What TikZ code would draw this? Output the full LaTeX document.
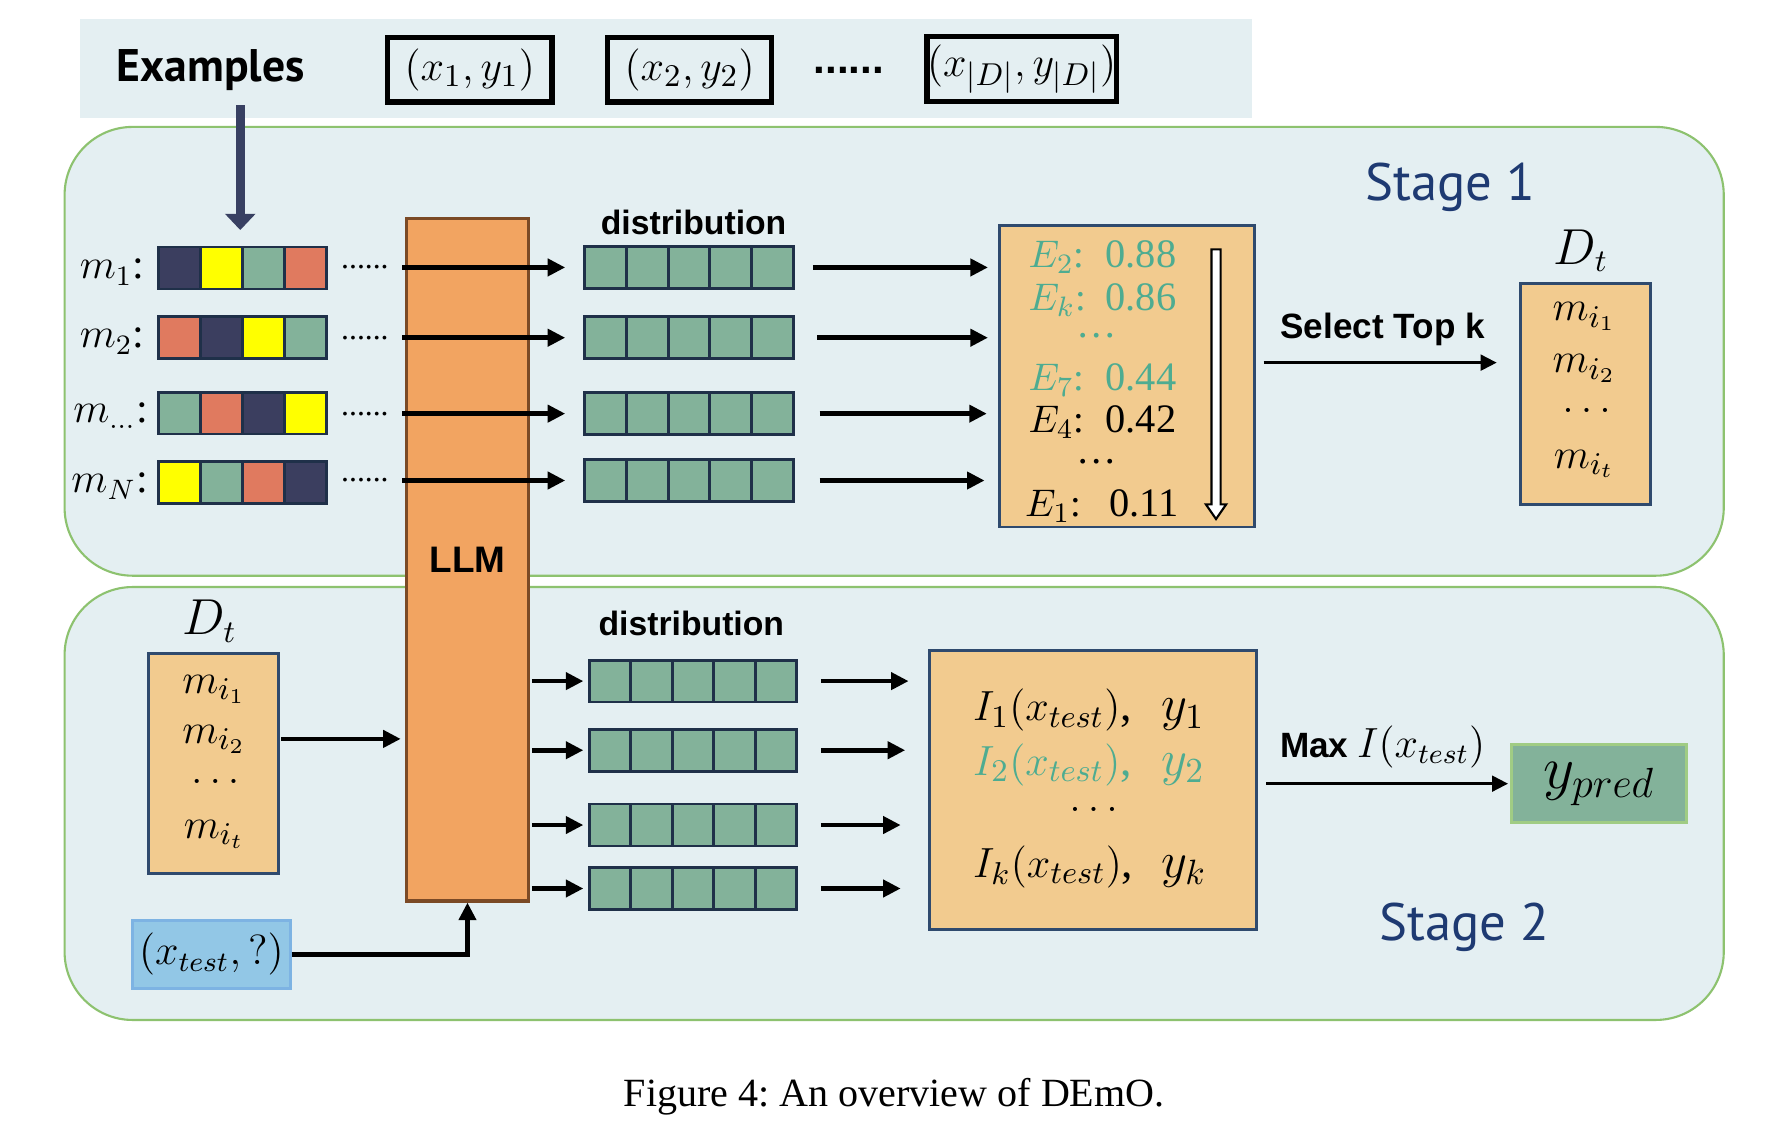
\documentclass[tikz,border=0pt]{standalone}
\usepackage{fontspec}
\setmainfont{Liberation Serif}
\setsansfont{Liberation Sans}
\newfontfamily\ptsans{PT Sans}
\usetikzlibrary{arrows.meta,calc}
\newlength\unitpx
\setlength\unitpx{0.011333cm}
\definecolor{bgblue}{HTML}{E4EFF2}
\definecolor{stageborder}{HTML}{8DC26F}
\definecolor{cnavy}{HTML}{3B3E5F}
\definecolor{cyellow}{HTML}{FFFF00}
\definecolor{cgreen}{HTML}{83B29A}
\definecolor{csalmon}{HTML}{E07A5F}
\definecolor{cellborder}{HTML}{1F3049}
\definecolor{llmfill}{HTML}{F2A461}
\definecolor{llmborder}{HTML}{7B4A26}
\definecolor{boxfill}{HTML}{F2CB8F}
\definecolor{boxborder}{HTML}{2F4A6E}
\definecolor{myteal}{HTML}{4EAC91}
\definecolor{testfill}{HTML}{92C7E6}
\definecolor{testborder}{HTML}{7DB3E3}
\definecolor{predborder}{HTML}{A0CC84}
\definecolor{stagetext}{HTML}{1E3A72}
\definecolor{arrownavy}{HTML}{384062}
\tikzset{
  arr/.style={line width=1.3pt, -{Triangle[length=5pt,width=4.8pt]}},
  thinarr/.style={line width=1pt, -{Triangle[length=4.6pt,width=4.4pt]}},
  stage/.style={draw=stageborder, fill=bgblue, rounded corners=0.68cm, line width=0.6pt, inner sep=0},
  band/.style={fill=bgblue, minimum width=1034\unitpx, minimum height=87\unitpx, inner sep=0},
  colorcell/.style={draw=cellborder, line width=0.8pt, minimum width=37\unitpx, minimum height=37\unitpx, inner sep=0, outer sep=0},
  distbar/.style={draw=cellborder, fill=cgreen, line width=0.8pt, minimum width=184\unitpx, minimum height=37\unitpx, inner sep=0,
    path picture={\foreach \k in {1,2,3,4}{\draw[cellborder, line width=0.8pt] ($(path picture bounding box.south west)!\k/5!(path picture bounding box.south east)$) -- ($(path picture bounding box.north west)!\k/5!(path picture bounding box.north east)$);}}},
  exbox/.style={draw=black, line width=1.5pt, minimum width=145\unitpx, minimum height=57\unitpx, inner sep=0, font=\fontsize{12.5}{14}\selectfont},
  orangebox/.style={draw=boxborder, fill=boxfill, line width=0.8pt, inner sep=0},
  rowlab/.style={anchor=east, inner sep=0, font=\fontsize{12}{14}\selectfont},
  rowdots/.style={inner sep=0, font=\fontsize{9}{10}\selectfont},
  ebtxt/.style={anchor=base west, inner sep=0, font=\fontsize{11.5}{13}\selectfont},
  eblab/.style={anchor=base west, inner sep=0, font=\fontsize{11}{13}\selectfont},
  ibtxt/.style={anchor=base west, inner sep=0, font=\fontsize{13}{15}\selectfont},
  mtxt/.style={anchor=base, inner sep=0, font=\fontsize{12.5}{14}\selectfont},
  sanslab/.style={anchor=base, inner sep=0, font=\sffamily\bfseries\fontsize{10}{12}\selectfont},
  distlab/.style={anchor=base, inner sep=0, font=\sffamily\bfseries\fontsize{9.6}{12}\selectfont},
  stagelab/.style={anchor=base, inner sep=0, text=stagetext, font=\ptsans\fontsize{15}{17}\selectfont},
}
\newcommand\colorrow[6]{%
  \node[colorcell, fill=#3] (#1a) at (158.5,#2) {};
  \node[colorcell, fill=#4] (#1b) at (195.5,#2) {};
  \node[colorcell, fill=#5] (#1c) at (232.5,#2) {};
  \node[colorcell, fill=#6] (#1d) at (269.5,#2) {};}
\begin{document}
\begin{tikzpicture}[x=0.011333cm,y=-0.011333cm]
\useasboundingbox (0,0) rectangle (1568,1006);
\fill[white] (0,0) rectangle (1568,1006);

% stages and band
\node[stage, minimum width=1464\unitpx, minimum height=396\unitpx] (stage1) at (789,310) {};
\node[stage, minimum width=1464\unitpx, minimum height=382\unitpx] (stage2) at (789,709) {};
\node[band] (band) at (588,60.5) {};

% examples
\node[anchor=base, inner sep=0, font=\ptsans\bfseries\fontsize{13}{15}\selectfont] (examples) at (186,72) {Examples};
\node[exbox] (ex1) at (414.5,61.5) {$(x_1,y_1)$};
\node[exbox] (ex2) at (608.5,61.5) {$(x_2,y_2)$};
\node[inner sep=0, font=\sffamily\bfseries\fontsize{12}{14}\selectfont] (exdots) at (749,62) {......};
\node[exbox, minimum width=163\unitpx] (exD) at (901.5,61) {$(x_{|D|},y_{|D|})$};

% stage labels
\node[stagelab] (st1) at (1280,177) {Stage 1};
\node[stagelab] (st2) at (1292,830) {Stage 2};

% LLM
\node[draw=llmborder, fill=llmfill, line width=0.9pt, minimum width=107\unitpx, minimum height=602\unitpx, inner sep=0,
      font=\sffamily\bfseries\fontsize{10.5}{12}\selectfont] (llm) at (412.5,494) {LLM};

% stage 1 rows
\colorrow{ra}{236.5}{cnavy}{cyellow}{cgreen}{csalmon}
\colorrow{rb}{297.5}{csalmon}{cnavy}{cyellow}{cgreen}
\colorrow{rc}{364.5}{cgreen}{csalmon}{cnavy}{cyellow}
\colorrow{rd}{425.5}{cyellow}{cgreen}{csalmon}{cnavy}
\node[rowlab] (la) at (128,240) {$m_1$:};
\node[rowlab] (lb) at (128,301) {$m_2$:};
\node[rowlab] (lc) at (131,367) {$m_{\dots}$:};
\node[rowlab] (ld) at (131,429) {$m_N$:};
\node[rowdots] (dta) at (322,236) {......};
\node[rowdots] (dtb) at (322,298) {......};
\node[rowdots] (dtc) at (322,365) {......};
\node[rowdots] (dtd) at (322,424) {......};

% distribution stage 1
\node[distlab] (dist1) at (612,207) {distribution};
\node[distbar] (d1) at (608,236) {};
\node[distbar] (d2) at (608,298) {};
\node[distbar] (d3) at (608,365) {};
\node[distbar] (d4) at (608,424) {};
\coordinate (sa) at (355,236);
\coordinate (sb) at (355,298);
\coordinate (sc) at (355,365);
\coordinate (sd) at (355,424);
\draw[arr, shorten >=16\unitpx] (sa) -- (d1.west);
\draw[arr, shorten >=16\unitpx] (sb) -- (d2.west);
\draw[arr, shorten >=16\unitpx] (sc) -- (d3.west);
\draw[arr, shorten >=16\unitpx] (sd) -- (d4.west);

% E box
\node[orangebox, minimum width=225\unitpx, minimum height=266\unitpx] (ebox) at (994.5,332) {};
\draw[arr, shorten <=16\unitpx, shorten >=9\unitpx] (d1.east) -- (d1.east -| ebox.west);
\draw[arr, shorten <=20\unitpx, shorten >=9\unitpx] (d2.east) -- (d2.east -| ebox.west);
\draw[arr, shorten <=22\unitpx, shorten >=10\unitpx] (d3.east) -- (d3.east -| ebox.west);
\draw[arr, shorten <=22\unitpx, shorten >=12\unitpx] (d4.east) -- (d4.east -| ebox.west);
\node[eblab, text=myteal] (e2l) at (907,236) {$E_2$:};
\node[ebtxt, text=myteal] (e2v) at (975,236) {0.88};
\node[eblab, text=myteal] (ekl) at (907,274) {$E_k$:};
\node[ebtxt, text=myteal] (ekv) at (975,274) {0.86};
\node[anchor=base, inner sep=0, text=myteal, font=\fontsize{11.5}{13}\selectfont] (edots1) at (968,298) {\dots};
\node[eblab, text=myteal] (e7l) at (907,345) {$E_7$:};
\node[ebtxt, text=myteal] (e7v) at (975,345) {0.44};
\node[eblab] (e4l) at (907,382) {$E_4$:};
\node[ebtxt] (e4v) at (975,382) {0.42};
\node[anchor=base, inner sep=0, font=\fontsize{11.5}{13}\selectfont] (edots2) at (968,409) {\dots};
\node[eblab] (e1l) at (904,456) {$E_1$:};
\node[ebtxt] (e1v) at (978,456) {0.11};
\draw[line width=0.6pt, fill=white] (1069,220) -- (1077,220) -- (1077,445) -- (1082,445) -- (1073,458) -- (1064,445) -- (1069,445) -- cycle;

% select top k
\node[orangebox, minimum width=114\unitpx, minimum height=195\unitpx] (dtone) at (1399,347.5) {};
\node[mtxt, font=\fontsize{13.5}{15}\selectfont] (dtonelab) at (1395,233) {$D_t$};
\node[mtxt] (o1) at (1398,283) {$m_{i_1}$};
\node[mtxt] (o2) at (1398,329) {$m_{i_2}$};
\node[mtxt] (o3) at (1400,364) {$\dots$};
\node[mtxt] (o4) at (1398,413) {$m_{i_t}$};
\node[sanslab] (sel) at (1220,299) {Select Top k};
\coordinate (selA) at (1115,320);
\draw[thinarr, shorten >=20\unitpx] (selA) -- (selA -| dtone.west);

% stage 2 D_t
\node[orangebox, minimum width=115\unitpx, minimum height=194\unitpx] (dttwo) at (188.5,674) {};
\node[mtxt, font=\fontsize{13.5}{15}\selectfont] (dttwolab) at (185,560) {$D_t$};
\node[mtxt] (p1) at (189,612) {$m_{i_1}$};
\node[mtxt] (p2) at (189,656) {$m_{i_2}$};
\node[mtxt] (p3) at (190,691) {$\dots$};
\node[mtxt] (p4) at (189,740) {$m_{i_t}$};
\coordinate (dtA) at (248,652);
\draw[arr, shorten >=4\unitpx] (dtA) -- (dtA -| llm.west);

% x_test
\node[draw=testborder, fill=testfill, line width=0.8pt, minimum width=139\unitpx, minimum height=60\unitpx, inner sep=0,
      font=\fontsize{12}{14}\selectfont] (xtest) at (186.5,842) {$(x_{test},\mathrm{?})$};
\draw[arr] (xtest.east) -| (llm.south);

% distribution stage 2
\node[distlab] (dist2) at (610,561) {distribution};
\node[distbar, minimum width=183\unitpx] (e1) at (611.5,601) {};
\node[distbar, minimum width=183\unitpx] (e2) at (611.5,662) {};
\node[distbar, minimum width=183\unitpx] (e3) at (611.5,728) {};
\node[distbar, minimum width=183\unitpx] (e4) at (611.5,784) {};
\draw[arr, shorten <=2\unitpx, shorten >=4\unitpx] (llm.east |- e1.west) -- (e1.west);
\draw[arr, shorten <=2\unitpx, shorten >=4\unitpx] (llm.east |- e2.west) -- (e2.west);
\draw[arr, shorten <=2\unitpx, shorten >=4\unitpx] (llm.east |- e3.west) -- (e3.west);
\draw[arr, shorten <=2\unitpx, shorten >=4\unitpx] (llm.east |- e4.west) -- (e4.west);

% I box
\node[orangebox, minimum width=289\unitpx, minimum height=246\unitpx] (ibox) at (964.5,697) {};
\draw[arr, shorten <=20\unitpx, shorten >=17\unitpx] (e1.east) -- (e1.east -| ibox.west);
\draw[arr, shorten <=20\unitpx, shorten >=20\unitpx] (e2.east) -- (e2.east -| ibox.west);
\draw[arr, shorten <=20\unitpx, shorten >=24\unitpx] (e3.east) -- (e3.east -| ibox.west);
\draw[arr, shorten <=20\unitpx, shorten >=24\unitpx] (e4.east) -- (e4.east -| ibox.west);
\node[ibtxt] (i1) at (858,636) {$I_1(x_{test})$,};
\node[ibtxt, font=\fontsize{14}{16}\selectfont] (y1) at (1024,636) {$y_1$};
\node[ibtxt, text=myteal] (i2) at (858,684) {$I_2(x_{test})$,};
\node[ibtxt, text=myteal, font=\fontsize{14}{16}\selectfont] (y2) at (1024,684) {$y_2$};
\node[anchor=base, inner sep=0, font=\fontsize{13}{15}\selectfont] (idots) at (965,716) {$\dots$};
\node[ibtxt] (ik) at (858,774) {$I_k(x_{test})$,};
\node[ibtxt, font=\fontsize{14}{16}\selectfont] (yk) at (1024,774) {$y_k$};

% prediction
\node[draw=predborder, fill=cgreen, line width=0.8pt, minimum width=154\unitpx, minimum height=69\unitpx, inner sep=0,
      font=\fontsize{18}{20}\selectfont] (ypred) at (1411,691.5) {$y_{pred}$};
\draw[thinarr, shorten <=7\unitpx, shorten >=2\unitpx] (ibox.east |- ypred.west) -- (ypred.west);
\node[anchor=base, inner sep=0] (maxlab) at (1220,668) {{\sffamily\bfseries\fontsize{10}{12}\selectfont Max} {\fontsize{11.5}{13}\selectfont$I(x_{test})$}};

% examples arrow
\coordinate (exA) at (212,93);
\coordinate (exB) at (212,203);
\draw[line width=2.5pt, draw=arrownavy, -{Triangle[length=4.6pt,width=8.4pt]}] (exA) -- (exB);

% caption
\node[anchor=base, inner sep=0, font=\fontsize{11.4}{13}\selectfont] (caption) at (789,976) {Figure 4:\ An overview of DEmO.};
\end{tikzpicture}
\end{document}
